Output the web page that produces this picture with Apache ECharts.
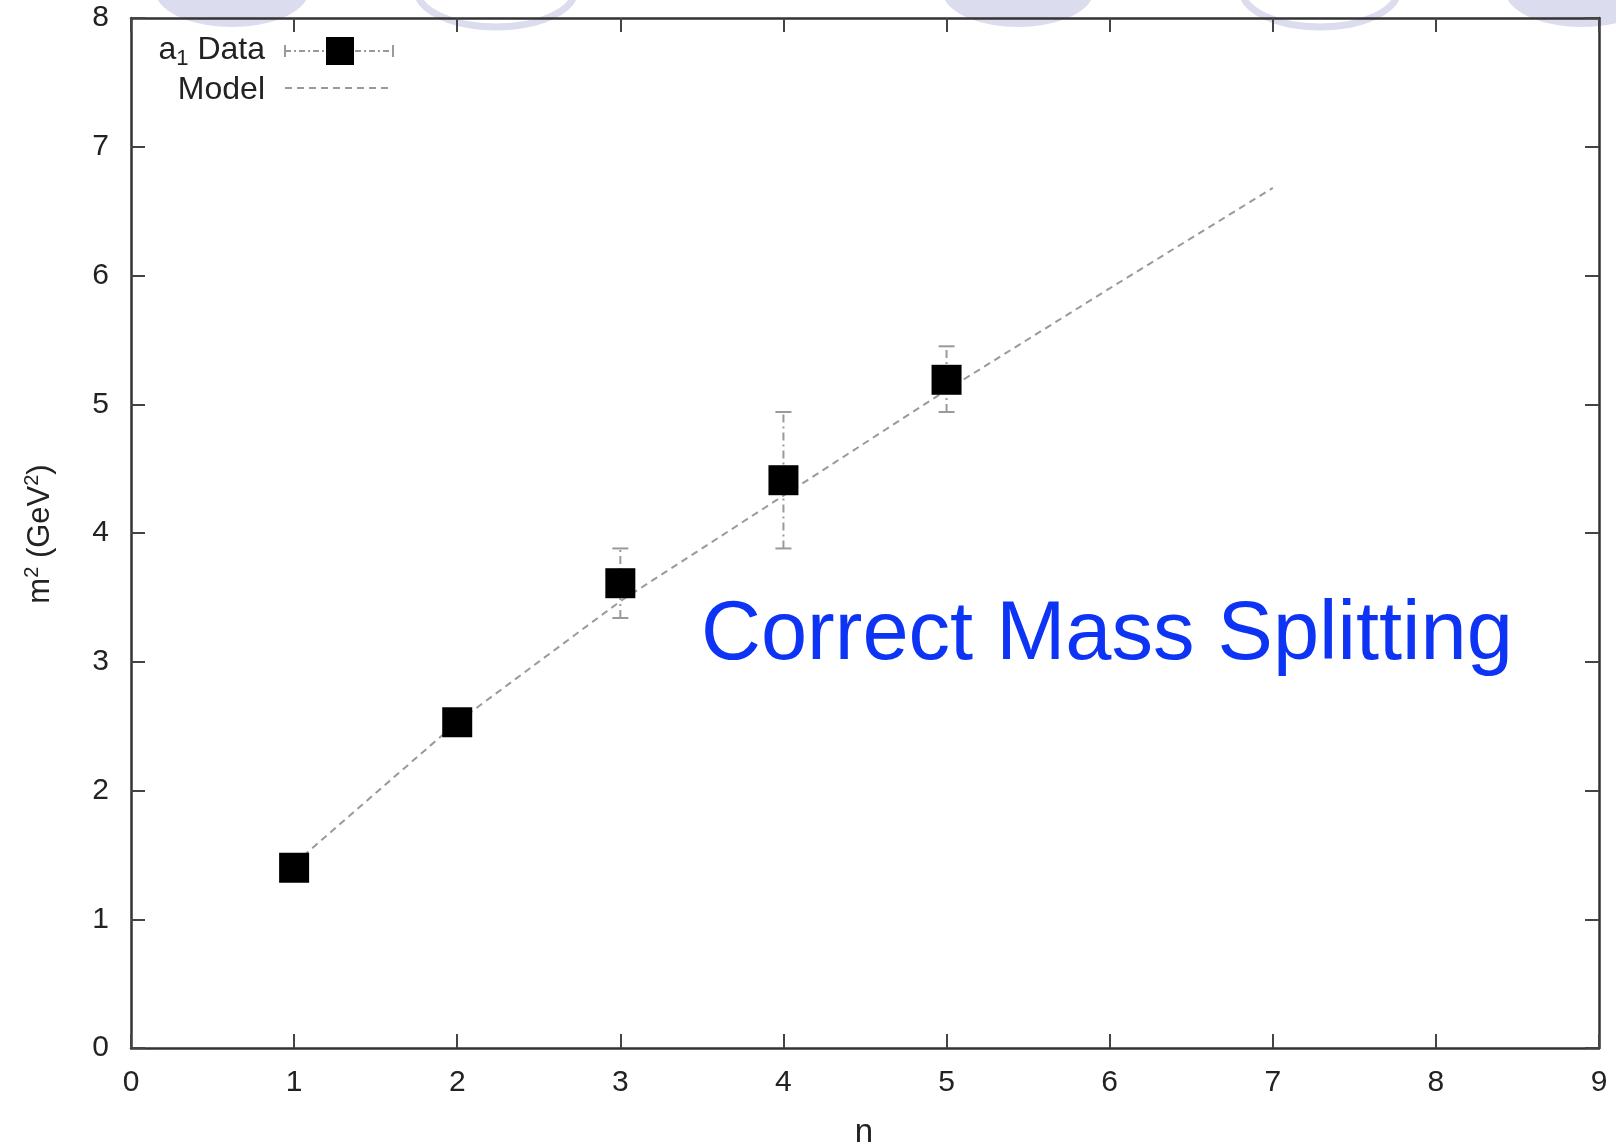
<!DOCTYPE html>
<html>
<head>
    <meta charset="UTF-8">
    <title>a1 mass splitting</title>
    <script src="https://cdn.jsdelivr.net/npm/echarts@6/dist/echarts.min.js"></script>
    <style>
        html, body { margin: 0; padding: 0; background: #fff; }
        #chart { width: 1616px; height: 1146px; }
    </style>
</head>
<body>
    <div id="chart"></div>
    <script>
        // data
        var nValues = [1, 2, 3, 4, 5];
        var a1Mass2 = [1.40, 2.53, 3.61, 4.41, 5.19];
        var errLow = [null, null, 3.34, 3.88, 4.94];
        var errHigh = [null, null, 3.88, 4.94, 5.45];
        var modelN = [1, 2, 3, 4, 5, 6, 7];
        var modelMass2 = [1.43, 2.53, 3.47, 4.29, 5.11, 5.90, 6.68];
        var xTicks = [0, 1, 2, 3, 4, 5, 6, 7, 8, 9];
        var yTicks = [0, 1, 2, 3, 4, 5, 6, 7, 8];

        var font = '"Liberation Sans", Arial, Helvetica, sans-serif';
        var grey = '#9a9a9a';

        var points = [];
        var errBars = [];
        for (var i = 0; i < nValues.length; i++) {
            points.push([nValues[i], a1Mass2[i]]);
            if (errLow[i] !== null) errBars.push([nValues[i], errLow[i], errHigh[i]]);
        }
        var model = [];
        for (var j = 0; j < modelN.length; j++) model.push([modelN[j], modelMass2[j]]);

        function axisX(pos, labels) {
            return {
                type: 'value', position: pos,
                min: xTicks[0], max: xTicks[xTicks.length - 1], interval: 1,
                splitLine: { show: false },
                axisLine: { onZero: false, lineStyle: { color: '#333', width: 2.5 } },
                axisTick: { inside: true, length: 14, lineStyle: { color: '#444', width: 2 } },
                axisLabel: { show: labels, margin: 20, color: '#222', fontSize: 30, fontFamily: font }
            };
        }
        function axisY(pos, labels) {
            return {
                type: 'value', position: pos,
                min: yTicks[0], max: yTicks[yTicks.length - 1], interval: 1,
                splitLine: { show: false },
                axisLine: { onZero: false, lineStyle: { color: '#333', width: 2.5 } },
                axisTick: { inside: true, length: 14, lineStyle: { color: '#444', width: 2 } },
                axisLabel: { show: labels, margin: 22, color: '#222', fontSize: 30, fontFamily: font }
            };
        }

        // slide decoration at the top
        var lav = '#dcdcef';
        var deco = [
            { type: 'ellipse', z: -10, shape: { cx: 232, cy: -10, rx: 77, ry: 37 }, style: { fill: lav } },
            { type: 'ellipse', z: -10, shape: { cx: 496, cy: -10, rx: 79, ry: 37 }, style: { fill: null, stroke: lav, lineWidth: 7 } },
            { type: 'ellipse', z: -10, shape: { cx: 1018, cy: -10, rx: 76, ry: 37 }, style: { fill: lav } },
            { type: 'ellipse', z: -10, shape: { cx: 1320, cy: -10, rx: 78, ry: 37 }, style: { fill: null, stroke: lav, lineWidth: 7 } },
            { type: 'ellipse', z: -10, shape: { cx: 1582, cy: -10, rx: 77, ry: 37 }, style: { fill: lav } }
        ];

        // hand-made legend in the top-left corner
        var legend = [
            { type: 'text', z: 10, style: { x: 265, y: 50, text: '{t|a}{s|1}{t| Data}', align: 'right', verticalAlign: 'middle',
                rich: { t: { fontSize: 32, fontFamily: font, fill: '#222' }, s: { fontSize: 22, fontFamily: font, fill: '#222', padding: [18, 0, 0, 0] } } } },
            { type: 'line', z: 10, shape: { x1: 285, y1: 51, x2: 393, y2: 51 }, style: { stroke: grey, lineWidth: 2, lineDash: [6, 3, 2, 3] } },
            { type: 'line', z: 10, shape: { x1: 285, y1: 45, x2: 285, y2: 57 }, style: { stroke: grey, lineWidth: 2 } },
            { type: 'line', z: 10, shape: { x1: 393, y1: 45, x2: 393, y2: 57 }, style: { stroke: grey, lineWidth: 2 } },
            { type: 'rect', z: 11, shape: { x: 326, y: 37, width: 28, height: 28 }, style: { fill: '#000' } },
            { type: 'text', z: 10, style: { x: 265, y: 90, text: 'Model', align: 'right', verticalAlign: 'middle', fontSize: 32, fontFamily: font, fill: '#222' } },
            { type: 'line', z: 10, shape: { x1: 285, y1: 88, x2: 393, y2: 88 }, style: { stroke: grey, lineWidth: 2, lineDash: [7, 5] } }
        ];

        var notes = [
            { type: 'text', z: 10, style: { x: 701, y: 636, text: 'Correct Mass Splitting', align: 'left', verticalAlign: 'middle', fontSize: 83, fontFamily: font, fill: '#0d33f5' } },
            { type: 'text', z: 10, rotation: Math.PI / 2, x: 40, y: 534, style: { x: 0, y: 0, text: '{t|m}{p|2}{t| (GeV}{p|2}{t|)}', align: 'center', verticalAlign: 'middle',
                rich: { t: { fontSize: 31, fontFamily: font, fill: '#222' }, p: { fontSize: 20, fontFamily: font, fill: '#222', padding: [0, 0, 15, 0] } } } },
            { type: 'text', z: 10, style: { x: 864, y: 1133, text: 'n', align: 'center', verticalAlign: 'middle', fontSize: 33, fontFamily: font, fill: '#222' } }
        ];

        var chart = echarts.init(document.getElementById('chart'));
        chart.setOption({
            backgroundColor: '#fff',
            animation: false,
            grid: { left: 131, right: 17, top: 18, bottom: 98 },
            xAxis: [axisX('bottom', true), axisX('top', false)],
            yAxis: [axisY('left', true), axisY('right', false)],
            graphic: deco.concat(legend, notes),
            series: [
                {
                    name: 'Model', type: 'line', data: model, showSymbol: false, z: 2,
                    lineStyle: { color: grey, width: 2, type: [7, 5] }
                },
                {
                    name: 'a1 error', type: 'custom', data: errBars, z: 3,
                    renderItem: function (params, api) {
                        var x = api.coord([api.value(0), api.value(1)])[0];
                        var lo = api.coord([api.value(0), api.value(1)])[1];
                        var hi = api.coord([api.value(0), api.value(2)])[1];
                        var st = { stroke: grey, lineWidth: 2 };
                        return {
                            type: 'group',
                            children: [
                                { type: 'line', shape: { x1: x, y1: lo, x2: x, y2: hi }, style: { stroke: grey, lineWidth: 2, lineDash: [8, 4, 2, 4] } },
                                { type: 'line', shape: { x1: x - 8, y1: lo, x2: x + 8, y2: lo }, style: st },
                                { type: 'line', shape: { x1: x - 8, y1: hi, x2: x + 8, y2: hi }, style: st }
                            ]
                        };
                    }
                },
                {
                    name: 'a1 Data', type: 'scatter', data: points, z: 4,
                    symbol: 'rect', symbolSize: 30,
                    itemStyle: { color: '#000', opacity: 1 }
                }
            ]
        });
    </script>
</body>
</html>
